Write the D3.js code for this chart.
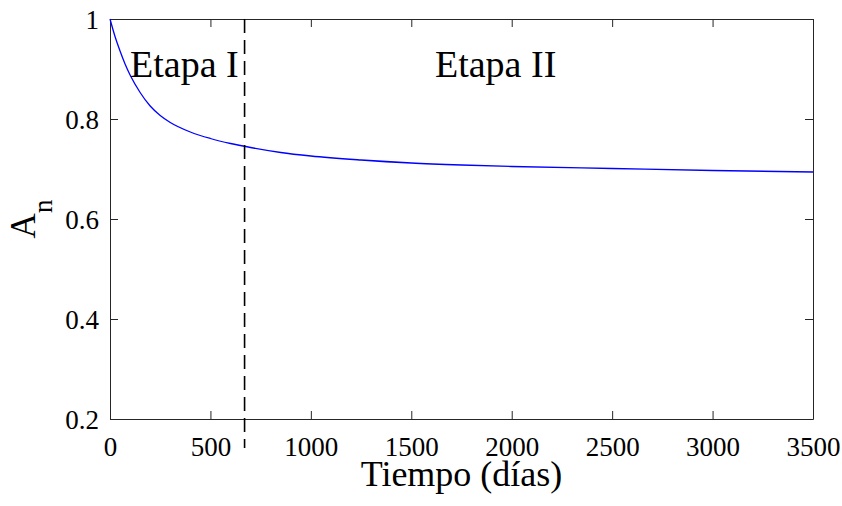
<!DOCTYPE html>
<html>
<head>
<meta charset="utf-8">
<script src="https://cdn.jsdelivr.net/npm/d3@7/dist/d3.min.js"></script>
<style>
  html, body { margin: 0; padding: 0; background: #fff; }
  svg { display: block; }
  svg text { font-family: "Liberation Serif", "Times New Roman", Times, "DejaVu Serif", serif !important; fill: #000; }
</style>
</head>
<body>
<svg id="chart" width="842" height="506"></svg>
<script>
// Normalised value A_n over time (days)
const timeDays = [0, 25, 50, 75, 100, 150, 200, 250, 300, 400, 500, 600, 700, 850,
                  1000, 1250, 1500, 1750, 2000, 2500, 3000, 3500];
const anValues = [1.000, 0.965, 0.936, 0.910, 0.888, 0.853, 0.826, 0.807, 0.793, 0.774,
                  0.761, 0.751, 0.743, 0.733, 0.726, 0.718, 0.712, 0.708, 0.705, 0.701,
                  0.697, 0.694];

// Boundary between the two stages
const stageBoundaryX = [670, 670];
const stageBoundaryY = [1.0, 0.142];

// Stage labels, anchored at their left baseline
const stageLabels = ["Etapa I", "Etapa II"];
const stageLabelX = [100, 1618];
const stageLabelY = [0.884, 0.884];

const xTicks = [0, 500, 1000, 1500, 2000, 2500, 3000, 3500];
const yTicks = [0.2, 0.4, 0.6, 0.8, 1];
const xTitle = "Tiempo (días)";

const FONT = '"Liberation Serif", "Times New Roman", Times, "DejaVu Serif", serif';

const margin = { left: 110, right: 29, top: 19, bottom: 87 };
const W = 842, H = 506;
const svg = d3.select("#chart");

const x = d3.scaleLinear().domain([0, 3500]).range([margin.left, W - margin.right]);
const y = d3.scaleLinear().domain([0.2, 1]).range([H - margin.bottom, margin.top]);

svg.append("rect").attr("width", W).attr("height", H).attr("fill", "#fff");

const axisColor = "#262626";
const tickLen = 8;

function styleAxis(g) {
  g.attr("font-family", FONT);
  g.selectAll("path.domain").attr("stroke", axisColor).attr("stroke-width", 1);
  g.selectAll(".tick line").attr("stroke", axisColor).attr("stroke-width", 1);
  g.selectAll(".tick text").attr("font-family", FONT).attr("fill", "#000");
}

// Bottom axis (ticks point inward)
svg.append("g")
  .attr("transform", `translate(0,${y(0.2)})`)
  .call(d3.axisBottom(x).tickValues(xTicks).tickFormat(d3.format("d"))
        .tickSizeInner(-tickLen).tickSizeOuter(0).tickPadding(0))
  .call(styleAxis)
  .call(g => g.selectAll(".tick text").attr("font-size", 27).attr("dy", null).attr("y", 37));

// Left axis
svg.append("g")
  .attr("transform", `translate(${x(0)},0)`)
  .call(d3.axisLeft(y).tickValues(yTicks).tickFormat(d => d === 1 ? "1" : d3.format(".1f")(d))
        .tickSizeInner(-tickLen).tickSizeOuter(0).tickPadding(11))
  .call(styleAxis)
  .call(g => g.selectAll(".tick text").attr("font-size", 27).attr("dy", "0.36em"));

// Top and right axes: ticks only
svg.append("g")
  .attr("transform", `translate(0,${y(1)})`)
  .call(d3.axisTop(x).tickValues(xTicks).tickFormat("").tickSizeInner(-tickLen).tickSizeOuter(0))
  .call(styleAxis);
svg.append("g")
  .attr("transform", `translate(${x(3500)},0)`)
  .call(d3.axisRight(y).tickValues(yTicks).tickFormat("").tickSizeInner(-tickLen).tickSizeOuter(0))
  .call(styleAxis);

// A_n curve
const series = timeDays.map((t, i) => [t, anValues[i]]);
svg.append("path")
  .datum(series)
  .attr("fill", "none")
  .attr("stroke", "#0000ff")
  .attr("stroke-width", 1.3)
  .attr("d", d3.line().x(d => x(d[0])).y(d => y(d[1])).curve(d3.curveMonotoneX));

// Dashed stage boundary
svg.append("line")
  .attr("x1", x(stageBoundaryX[0])).attr("x2", x(stageBoundaryX[1]))
  .attr("y1", y(stageBoundaryY[0])).attr("y2", y(stageBoundaryY[1]))
  .attr("stroke", "#000").attr("stroke-width", 1.6)
  .attr("stroke-dasharray", "14,7");

// Stage labels
stageLabels.forEach((s, i) => {
  svg.append("text")
    .attr("x", x(stageLabelX[i])).attr("y", y(stageLabelY[i]))
    .attr("font-family", FONT)
    .attr("font-size", 38)
    .text(s);
});

// X axis title
svg.append("text")
  .attr("x", (x(0) + x(3500)) / 2).attr("y", 486)
  .attr("text-anchor", "middle")
  .attr("font-family", FONT)
  .attr("font-size", 36)
  .text(xTitle);

// Y axis title with subscript
const yt = svg.append("text")
  .attr("transform", `translate(35,${(y(0.2) + y(1)) / 2}) rotate(-90)`)
  .attr("text-anchor", "middle")
  .attr("font-family", FONT)
  .attr("font-size", 35);
yt.append("tspan").text("A");
yt.append("tspan").attr("font-size", 27).attr("dy", 17).text("n");
</script>
</body>
</html>
